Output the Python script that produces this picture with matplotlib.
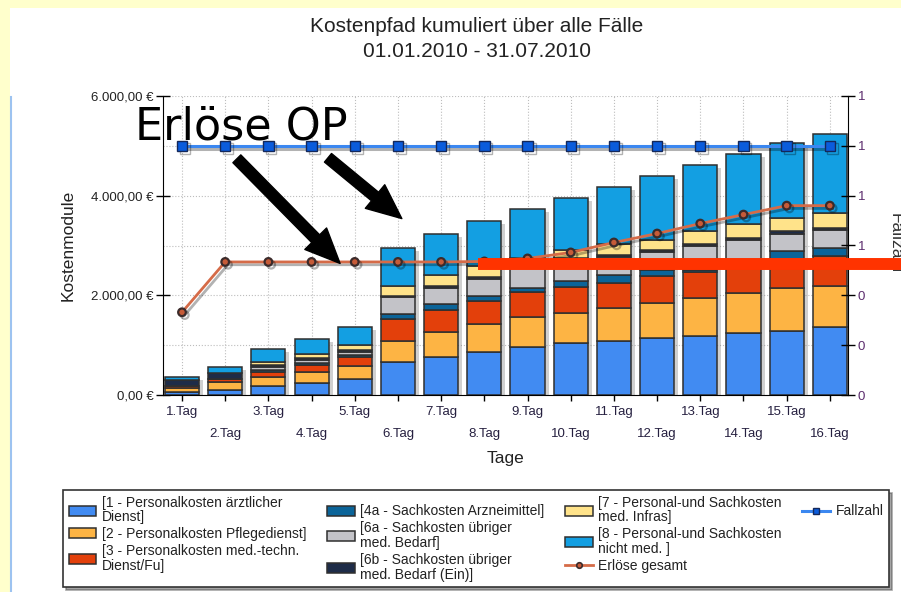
import matplotlib
matplotlib.use('Agg')
import matplotlib.pyplot as plt
import numpy as np
from matplotlib import patheffects as pe
from matplotlib import transforms
from matplotlib.lines import Line2D
from matplotlib.patches import Rectangle
from matplotlib.ticker import FuncFormatter, MultipleLocator, FixedLocator

plt.rcParams['font.family'] = ['Liberation Sans', 'DejaVu Sans']

#######  data

tage = ["1.Tag", "2.Tag", "3.Tag", "4.Tag", "5.Tag", "6.Tag", "7.Tag", "8.Tag",
        "9.Tag", "10.Tag", "11.Tag", "12.Tag", "13.Tag", "14.Tag", "15.Tag", "16.Tag"]

k1_aerztl = [60, 100, 180, 240, 320, 660, 760, 860, 960, 1040, 1080, 1140, 1180, 1240, 1280, 1360]
k2_pflege = [80, 160, 180, 220, 260, 420, 500, 560, 600, 600, 660, 700, 760, 800, 860, 820]
k3_medtech = [40, 60, 100, 140, 180, 440, 440, 460, 500, 520, 500, 540, 520, 560, 560, 600]
k4a_arznei = [0, 0, 40, 40, 40, 100, 120, 100, 80, 120, 160, 120, 40, 60, 180, 160]
k6a_bedarf = [0, 0, 60, 60, 60, 340, 320, 340, 440, 420, 360, 360, 480, 460, 360, 380]
k6b_bedarf_ein = [120, 120, 40, 40, 40, 30, 40, 40, 40, 40, 40, 40, 60, 40, 60, 40]
k7_infra = [0, 0, 60, 80, 100, 200, 220, 220, 120, 160, 240, 220, 260, 280, 260, 300]
k8_nichtmed = [60, 120, 260, 300, 360, 760, 840, 920, 1000, 1060, 1140, 1280, 1320, 1400, 1500, 1580]

erloese_gesamt = [1660, 2670, 2670, 2670, 2670, 2670, 2670, 2680, 2740, 2860, 3060, 3240, 3440, 3620, 3800, 3800]
fallzahl = [1, 1, 1, 1, 1, 1, 1, 1, 1, 1, 1, 1, 1, 1, 1, 1]

namen = ["[1 - Personalkosten ärztlicher\nDienst]",
         "[2 - Personalkosten Pflegedienst]",
         "[3 - Personalkosten med.-techn.\nDienst/Fu]",
         "[4a - Sachkosten Arzneimittel]",
         "[6a - Sachkosten übriger\nmed. Bedarf]",
         "[6b - Sachkosten übriger\nmed. Bedarf (Ein)]",
         "[7 - Personal-und Sachkosten\nmed. Infras]",
         "[8 - Personal-und Sachkosten\nnicht med. ]"]
farben = ['#418BF2', '#FDB444', '#E3400B', '#0B6499', '#C3C3C8', '#1E2C48', '#FFE38A', '#139FE2']

#######  figure + frame

W, H = 901, 592
fig = plt.figure(figsize=(W / 100, H / 100), dpi=100, facecolor='#FFFFCC')
fig.add_artist(Rectangle((10 / W, 0), 1, 1 - 8 / H, transform=fig.transFigure,
                         facecolor='white', edgecolor='none', zorder=-10))
fig.add_artist(Line2D([10.5 / W, 10.5 / W], [0, 1 - 97 / H], transform=fig.transFigure,
                      color='#9DC3F0', lw=1.5, zorder=-9))

ax = fig.add_axes([163 / W, 1 - 395 / H, (848 - 163) / W, (395 - 96) / H])
ax.patch.set_alpha(0)

x = np.arange(len(tage))
breite = 0.79
stapel = [k1_aerztl, k2_pflege, k3_medtech, k4a_arznei, k6a_bedarf, k6b_bedarf_ein, k7_infra, k8_nichtmed]

# drop shadow behind each bar stack
gesamt = np.sum(stapel, axis=0)
shadow_tr = transforms.offset_copy(ax.transData, fig=fig, x=4, y=-3, units='dots')
ax.bar(x, gesamt, breite, color='#7a7a7a', alpha=0.35, linewidth=0, transform=shadow_tr, zorder=1)

bar_handles = []
bottom = np.zeros(len(tage))
for werte, farbe, name in zip(stapel, farben, namen):
    b = ax.bar(x, werte, breite, bottom=bottom, color=farbe, edgecolor='#2F2F2F',
               linewidth=1.1, label=name, zorder=2)
    bar_handles.append(b)
    bottom += np.array(werte)

line_shadow = [pe.SimpleLineShadow(offset=(2, -2), alpha=0.3), pe.Normal()]
erl_style = dict(color='#D56B48', lw=2, marker='o', mfc='#C65B38', mec='#3B2B2B')
ax.plot(x, erloese_gesamt, ms=5.5, mew=1.6, zorder=5, path_effects=line_shadow,
        label='Erlöse gesamt', **erl_style)

ax.set_xlim(-0.44, 15.42)
ax.set_ylim(0, 6000)

# left axis
def euro(v, pos):
    s = '{:,.2f}'.format(v).replace(',', 'X').replace('.', ',').replace('X', '.')
    return s + ' €'

ax.yaxis.set_major_locator(MultipleLocator(2000))
ax.yaxis.set_minor_locator(MultipleLocator(1000))
ax.yaxis.set_major_formatter(FuncFormatter(euro))
ax.tick_params(axis='y', which='major', direction='inout', length=10, width=1,
               labelsize=9.5, labelcolor='#222222', pad=2)
ax.tick_params(axis='y', which='minor', length=0)

ax.xaxis.set_major_locator(FixedLocator(x))
ax.set_xticklabels(tage)
ax.tick_params(axis='x', direction='out', length=4, width=1, labelsize=9.5, labelcolor='#262040')
for i, tick in enumerate(ax.xaxis.get_major_ticks()):
    tick.set_pad(4 if i % 2 == 0 else 19.5)

ax.set_axisbelow(True)
ax.grid(True, which='both', axis='y', ls=':', color='#BDBDBD', lw=0.8)
ax.grid(True, which='major', axis='x', ls=':', color='#BDBDBD', lw=0.8)

for s in ['top', 'right']:
    ax.spines[s].set_visible(False)
ax.spines['left'].set_color('black')
ax.spines['bottom'].set_color('black')

ax.set_xlabel('Tage', fontsize=12.5, color='#222222')
ax.xaxis.set_label_coords(0.5, -0.188)
ax.set_ylabel('Kostenmodule', fontsize=12.5, color='#222222')
ax.yaxis.set_label_coords(-0.1275, 0.502)

# right axis: Fallzahl
ax2 = ax.twinx()
fz_style = dict(color='#3B87F0', lw=2.2, marker='s', mfc='#0B5CDC', mec='#14285A')
ax2.plot(x, fallzahl, ms=7.5, mew=1, zorder=5, path_effects=line_shadow,
         label='Fallzahl', **fz_style)
ax2.set_ylim(0, 1.2)
ax2.yaxis.set_major_locator(MultipleLocator(0.2))
ax2.yaxis.set_major_formatter(FuncFormatter(lambda v, p: '%.0f' % v))
ax2.tick_params(axis='y', direction='inout', length=10, width=1, labelsize=9.5,
                labelcolor='#5C2D6E', pad=2)
for s in ['top', 'left', 'bottom']:
    ax2.spines[s].set_visible(False)
ax2.spines['right'].set_color('black')

# axis title sits at the right edge and is cut off there, as in the original
fig.text(888 / W, 1 - 243 / H, 'Fallzahl', rotation=270, ha='left', va='center',
         fontsize=12.5, color='#333333', zorder=-1)

# title
fig.text(477 / W, 1 - 27 / H, 'Kostenpfad kumuliert über alle Fälle',
         ha='center', va='center', fontsize=15, color='#222222')
fig.text(477 / W, 1 - 51.5 / H, '01.01.2010 - 31.07.2010',
         ha='center', va='center', fontsize=15, color='#222222')

#######  legend (4 columns, 3 rows each)

erl_leg = Line2D([], [], ms=4, mew=1.2, **erl_style)
fz_leg = Line2D([], [], ms=5, mew=1, **fz_style)
blank = Line2D([], [], color='none')
handles = bar_handles[0:3] + bar_handles[3:6] + bar_handles[6:8] + [erl_leg] + [fz_leg, blank, blank]
labels = namen[0:3] + namen[3:6] + namen[6:8] + ['Erlöse gesamt'] + ['Fallzahl', ' ', ' ']
leg = fig.legend(handles, labels, ncol=4, loc='upper left',
                 bbox_to_anchor=(63 / W, 1 - 587 / H, 826 / W, 97 / H), mode='expand',
                 borderaxespad=0, frameon=True, fancybox=False, shadow=True,
                 edgecolor='#333333', fontsize=10, handlelength=2.0, handleheight=0.72,
                 handletextpad=0.4, labelspacing=0.2, borderpad=0.4)
leg.get_frame().set_linewidth(1.2)
for t in leg.get_texts():
    t.set_linespacing(1.08)
    t.set_color('#222222')

#######  overlay annotations

fig.text(135 / W, 1 - 140 / H, 'Erlöse OP', family='DejaVu Sans', fontsize=32,
         color='black', va='baseline', ha='left')

pfeil = dict(arrowstyle='simple,head_length=2.5,head_width=2.2,tail_width=0.8',
             color='black', mutation_scale=10, shrinkA=0, shrinkB=0)
ax.annotate('', xy=(3.66, 2640), xytext=(1.27, 4740), arrowprops=pfeil, zorder=8,
            annotation_clip=False)
ax.annotate('', xy=(5.09, 3540), xytext=(3.38, 4760), arrowprops=pfeil, zorder=8,
            annotation_clip=False)

# red marker line across to the right edge
ax2.plot([6.85, 17.5], [2620, 2620], transform=ax.transData, color='#FF3300',
         lw=8.6, solid_capstyle='butt', clip_on=False, zorder=10)

fig.savefig('out.png', dpi=100, facecolor=fig.get_facecolor())
